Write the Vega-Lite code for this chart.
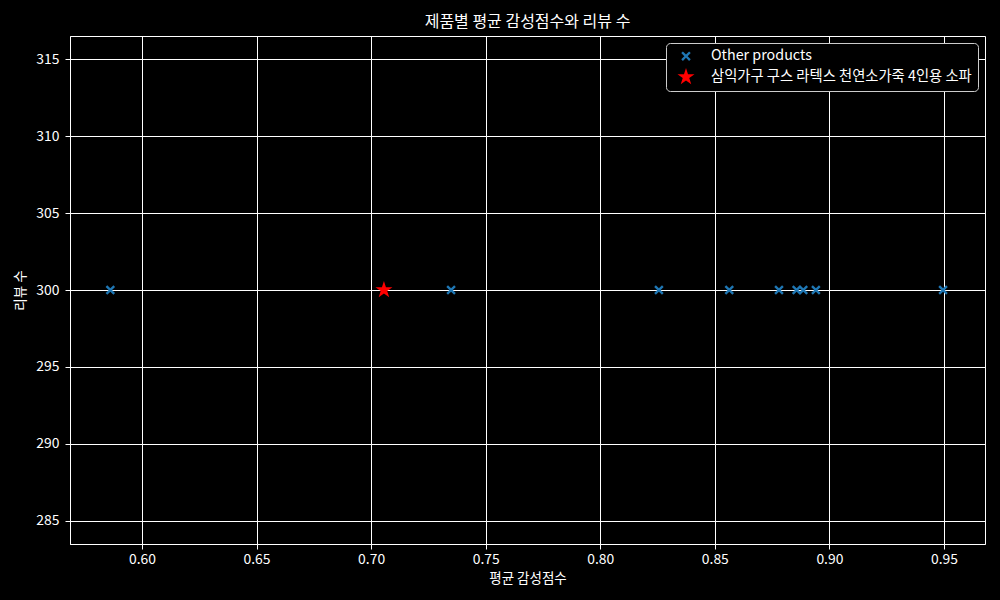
{
  "$schema": "https://vega.github.io/schema/vega-lite/v6.json",
  "width": 915,
  "height": 508,
  "autosize": {"type": "none"},
  "padding": {"left": 70, "top": 36, "right": 15, "bottom": 56},
  "background": "black",
  "title": {"text": "제품별 평균 감성점수와 리뷰 수", "fontSize": 16, "font": "Noto Sans CJK KR", "fontWeight": "normal", "color": "white", "anchor": "middle", "offset": 6},
  "config": {
    "view": {"stroke": "white", "strokeWidth": 1},
    "font": "Noto Sans CJK KR"
  },
  "data": {
    "values": [
      {"score": 0.5862, "reviews": 300, "type": "Other products"},
      {"score": 0.7349, "reviews": 300, "type": "Other products"},
      {"score": 0.8256, "reviews": 300, "type": "Other products"},
      {"score": 0.8563, "reviews": 300, "type": "Other products"},
      {"score": 0.8780, "reviews": 300, "type": "Other products"},
      {"score": 0.8857, "reviews": 300, "type": "Other products"},
      {"score": 0.8886, "reviews": 300, "type": "Other products"},
      {"score": 0.8941, "reviews": 300, "type": "Other products"},
      {"score": 0.9496, "reviews": 300, "type": "Other products"},
      {"score": 0.7056, "reviews": 300, "type": "삼익가구 구스 라텍스 천연소가죽 4인용 소파"}
    ]
  },
  "mark": {"type": "point", "filled": true, "opacity": 1, "clip": true},
  "encoding": {
    "x": {
      "field": "score", "type": "quantitative", "title": "평균 감성점수",
      "scale": {"domain": [0.5686, 0.9679], "nice": false, "zero": false},
      "axis": {"values": [0.6, 0.65, 0.7, 0.75, 0.8, 0.85, 0.9, 0.95], "format": ".2f",
        "grid": true, "gridColor": "white", "gridOpacity": 1, "gridWidth": 1,
        "domainColor": "white", "tickColor": "white", "tickSize": 5, "labelColor": "white",
        "labelFontSize": 13.9, "labelPadding": 3, "titleColor": "white", "titleFontSize": 13.5,
        "titleFontWeight": "normal", "titlePadding": 6, "labelFlush": false}
    },
    "y": {
      "field": "reviews", "type": "quantitative", "title": "리뷰 수",
      "scale": {"domain": [283.5, 316.5], "nice": false, "zero": false},
      "axis": {"values": [285, 290, 295, 300, 305, 310, 315],
        "grid": true, "gridColor": "white", "gridOpacity": 1, "gridWidth": 1,
        "domainColor": "white", "tickColor": "white", "tickSize": 5, "labelColor": "white",
        "labelFontSize": 13.9, "labelPadding": 6, "titleColor": "white", "titleFontSize": 13.5,
        "titleFontWeight": "normal", "titlePadding": 8, "labelFlush": false}
    },
    "color": {
      "field": "type", "type": "nominal",
      "scale": {"domain": ["Other products", "삼익가구 구스 라텍스 천연소가죽 4인용 소파"], "range": ["#1f77b4", "#ff0000"]},
      "legend": {"title": null, "orient": "none", "legendX": 596, "legendY": 7,
        "fillColor": "black", "strokeColor": "#cccccc", "cornerRadius": 4, "padding": 6,
        "labelColor": "white", "labelFontSize": 14.3, "labelOffset": 15, "labelLimit": 0, "rowPadding": 3, "symbolOffset": 4}
    },
    "shape": {
      "field": "type", "type": "nominal",
      "scale": {"domain": ["Other products", "삼익가구 구스 라텍스 천연소가죽 4인용 소파"],
        "range": ["M-1,-0.65L-0.35,0L-1,0.65L-0.65,1L0,0.35L0.65,1L1,0.65L0.35,0L1,-0.65L0.65,-1L0,-0.35L-0.65,-1Z",
                  "M0,-1L0.2245,-0.309L0.951,-0.309L0.3633,0.118L0.588,0.809L0,0.382L-0.588,0.809L-0.3633,0.118L-0.951,-0.309L-0.2245,-0.309Z"]}
    },
    "size": {
      "field": "type", "type": "nominal",
      "scale": {"domain": ["Other products", "삼익가구 구스 라텍스 천연소가죽 4인용 소파"], "range": [90, 320]}
    },
    "order": {"field": "type", "sort": "ascending"}
  }
}
